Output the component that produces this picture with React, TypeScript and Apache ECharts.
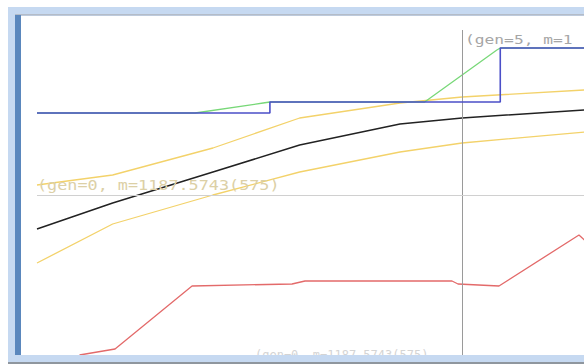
import React, { useEffect, useRef } from "react";
import * as echarts from "echarts";

// x = generation, y = fitness-like units (pixel-scale)
const blueX = [0, 2.74, 2.74, 5.45, 5.45, 6.44];
const blueY = [242, 242, 253, 253, 307, 307];

const greenX = [0, 1.86, 2.66, 2.74, 4.56, 5.41, 5.45, 6.44];
const greenY = [242, 242, 252, 253, 253, 305, 307, 307];

const bandX = [0, 0.89, 2.07, 3.09, 4.27, 5.0, 6.44];
const meanY = [126, 152, 183, 210, 231, 237, 245];
const upperY = [170, 180, 207, 237, 252, 258, 265];
const lowerY = [92, 131, 160, 183, 203, 212, 223];

const redX = [0.5, 0.918, 1.824, 3.0, 3.153, 4.882, 4.953, 5.435, 6.376, 6.44];
const redY = [0, 6, 69, 71, 74, 74, 71, 69, 120, 115];

const markGen = 5;
const markLevel = 160;
const labelMain = "(gen=0, m=1187.5743(575)";
const labelTop = "(gen=5, m=1";
const labelBottom = "(gen=0, m=1187.5743(575)";

const zip = (xs: number[], ys: number[]) => xs.map((x, i) => [x, ys[i]]);

export default function App() {
  const ref = useRef<HTMLDivElement>(null);
  useEffect(() => {
    document.body.style.margin = "0";
    const chart = echarts.init(ref.current!, null, { renderer: "svg" });
    const line = (name: string, data: number[][], color: string, width: number, z: number) => ({
      name,
      type: "line",
      data,
      showSymbol: false,
      symbol: "none",
      lineStyle: { color, width },
      z,
    });
    chart.setOption({
      animation: false,
      backgroundColor: "#ffffff",
      grid: { left: 37, right: 0, top: 15, bottom: 9 },
      xAxis: { type: "value", min: 0, max: 6.435, show: false },
      yAxis: { type: "value", min: 0, max: 340, show: false },
      graphic: [
        { type: "rect", shape: { x: 8, y: 7, width: 576, height: 9 }, style: { fill: "#c6d9f1" }, z: 50 },
        { type: "rect", shape: { x: 15, y: 14, width: 569, height: 1.5 }, style: { fill: "#b4bcc8" }, z: 51 },
        { type: "rect", shape: { x: 8, y: 7, width: 8, height: 357 }, style: { fill: "#c6d9f1" }, z: 50 },
        { type: "rect", shape: { x: 15, y: 15, width: 6, height: 340 }, style: { fill: "#5a87bd" }, z: 51 },
        { type: "rect", shape: { x: 8, y: 355, width: 576, height: 7 }, style: { fill: "#c6d9f1" }, z: 50 },
        { type: "rect", shape: { x: 8, y: 362, width: 576, height: 2 }, style: { fill: "#8f969e" }, z: 51 },
        {
          type: "text",
          x: 37,
          y: 178,
          scaleX: 1.2,
          style: { text: labelMain, fill: "#dcd0a6", font: "14px 'DejaVu Sans Mono'" },
          z: 20,
        },
        {
          type: "text",
          x: 465,
          y: 33,
          scaleX: 1.25,
          style: { text: labelTop, fill: "#a6a6a6", font: "13px 'DejaVu Sans Mono'" },
          z: 20,
        },
        {
          type: "text",
          x: 255,
          y: 349,
          style: { text: labelBottom, fill: "#d4d4d4", font: "12px 'DejaVu Sans Mono'" },
          z: 20,
        },
      ],
      series: [
        {
          ...line("guides", [], "#999", 1, 1),
          markLine: {
            silent: true,
            symbol: "none",
            label: { show: false },
            data: [
              [
                { coord: [markGen, 325], lineStyle: { color: "#9a9a9a", width: 1, type: "solid" } },
                { coord: [markGen, 0] },
              ],
              { yAxis: markLevel, lineStyle: { color: "#d0d0d0", width: 1, type: "solid" } },
            ],
          },
        },
        line("upper", zip(bandX, upperY), "#f3d26a", 1.3, 3),
        line("lower", zip(bandX, lowerY), "#f3d26a", 1.3, 3),
        line("mean", zip(bandX, meanY), "#222222", 1.5, 4),
        line("red", zip(redX, redY), "#e36a6a", 1.3, 4),
        line("green", zip(greenX, greenY), "#78d878", 1.3, 4),
        line("blue", zip(blueX, blueY), "#4b4fc8", 1.6, 5),
      ],
    });
    return () => chart.dispose();
  }, []);
  return <div ref={ref} style={{ width: 584, height: 364 }} />;
}
